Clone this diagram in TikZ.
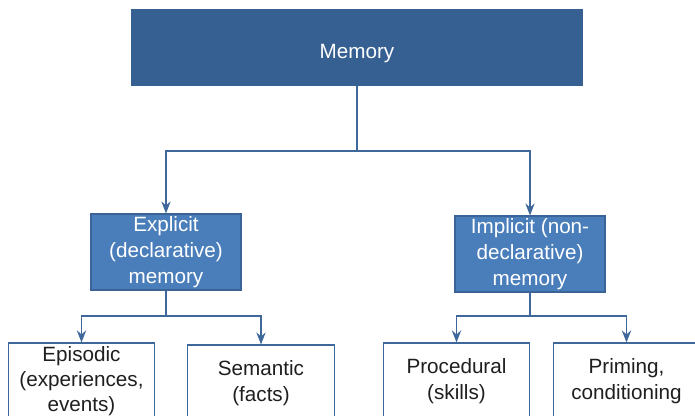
\documentclass[tikz,border=0pt]{standalone}
\usepackage{fontspec}
\setmainfont{Liberation Sans}
\usetikzlibrary{arrows.meta}

\definecolor{memdark}{RGB}{54,96,146}
\definecolor{memmid}{RGB}{74,126,187}
\definecolor{memedge}{RGB}{58,100,152}
\definecolor{memline}{RGB}{62,104,156}

\begin{document}
\begin{tikzpicture}[x=0.75pt, y=-0.75pt,
    every node/.style={font=\fontsize{15.5}{19}\selectfont, align=center, inner sep=0pt},
    topbox/.style={fill=memdark, text=white, minimum width=339pt, minimum height=57.75pt,
                   text height=16pt, text depth=0.2pt},
    midbox/.style={fill=memmid, draw=memedge, line width=0.9pt, text=white,
                   font=\fontsize{15.5}{19.5}\selectfont,
                   minimum width=112.5pt, minimum height=57pt},
    leafbox/.style={fill=white, draw=memline, line width=0.9pt, text=black!88,
                    minimum width=110pt, minimum height=57pt},
    conn/.style={draw=memline, line width=0.9pt},
    arr/.style={conn, -{Stealth[length=9pt, width=7pt, inset=3pt]}}]
    \useasboundingbox (0,0) rectangle (695,415);
    \clip (0,0) rectangle (695,415);

    % Caixa principal.
    \node[topbox] (memory) at (357,47.5) {Memory};

    % Dois grandes ramos.
    \node[midbox] (explicit) at (166,252) {Explicit\\(declarative)\\memory};
    \node[midbox] (implicit) at (530,254) {Implicit (non-\\declarative)\\memory};

    % Folhas.
    \node[leafbox] (episodic) at (81.5,381) {Episodic\\(experiences,\\events)};
    \node[leafbox] (semantic) at (261,383) {Semantic\\(facts)};
    \node[leafbox] (procedural) at (456.5,381) {Procedural\\(skills)};
    \node[leafbox] (priming) at (626.5,381) {Priming,\\conditioning};

    % Pontos de ramificação.
    \coordinate (split0) at (357,151);
    \coordinate (split1) at (166,316);
    \coordinate (split2) at (530,316);

    % Ligações.
    \draw[conn] (memory.south) -- (split0);
    \draw[arr] (split0) -| (explicit.north);
    \draw[arr] (split0) -| (implicit.north);

    \draw[conn] (explicit.south) -- (split1);
    \draw[arr] (split1) -| (episodic.north);
    \draw[arr] (split1) -| (semantic.north);

    \draw[conn] (implicit.south) -- (split2);
    \draw[arr] (split2) -| (procedural.north);
    \draw[arr] (split2) -| (priming.north);
\end{tikzpicture}
\end{document}
